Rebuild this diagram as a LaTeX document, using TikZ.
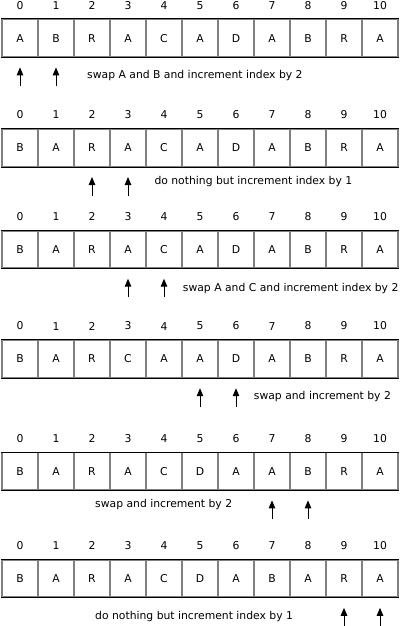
\documentclass[tikz,border=0pt]{standalone}
\usepackage{fontspec}
\setmainfont{DejaVu Sans}
\usetikzlibrary{arrows.meta,positioning}
\tikzset{
  cell/.style={rectangle, draw=black!50, line width=1.4pt, minimum width=36pt, minimum height=37pt, inner sep=0pt, font=\fontsize{10.8}{12}\selectfont},
  idx/.style={inner sep=0pt, font=\fontsize{10.8}{12}\selectfont},
  note/.style={anchor=west, inner sep=0pt, font=\fontsize{10.8}{12}\selectfont},
  ptr/.style={-{Triangle[length=8pt,width=6.5pt]}, line width=1pt, shorten >=10pt},
  edge/.style={line width=1pt}
}
\begin{document}
\begin{tikzpicture}[x=1pt, y=-1pt]
  \useasboundingbox (0,0) rectangle (412,626);
  % Felder mit Index
  \foreach \r/\y/\word in {1/38.2/{A,B,R,A,C,A,D,A,B,R,A}, 2/147.8/{B,A,R,A,C,A,D,A,B,R,A}, 3/249.5/{B,A,R,A,C,A,D,A,B,R,A}, 4/359/{B,A,R,C,A,A,D,A,B,R,A}, 5/471.2/{B,A,R,A,C,D,A,A,B,R,A}, 6/578.6/{B,A,R,A,C,D,A,B,A,R,A}} {
    \foreach \ch [count=\i from 0] in \word {
      \node [cell] (r\r c\i) at (20+36*\i,\y) {\ch};
      \node [idx, above=9.5pt of r\r c\i] (i\r c\i) {\i};
    }
    \draw [edge] (r\r c0.north west) -- (r\r c10.north east);
    \draw [edge] (r\r c0.south west) -- (r\r c10.south east);
  }

  % Zeiger
  \coordinate [below=28.5pt of r1c0.south] (p1a);
  \coordinate [below=28.5pt of r1c1.south] (p1b);
  \coordinate [below=28.5pt of r2c2.south] (p2a);
  \coordinate [below=28.5pt of r2c3.south] (p2b);
  \coordinate [below=28.5pt of r3c3.south] (p3a);
  \coordinate [below=28.5pt of r3c4.south] (p3b);
  \coordinate [below=28.5pt of r4c5.south] (p4a);
  \coordinate [below=28.5pt of r4c6.south] (p4b);
  \coordinate [below=28.5pt of r5c7.south] (p5a);
  \coordinate [below=28.5pt of r5c8.south] (p5b);
  \coordinate [below=28.5pt of r6c9.south] (p6a);
  \coordinate [below=28.5pt of r6c10.south] (p6b);
  \draw [ptr] (p1a) -- (r1c0.south);
  \draw [ptr] (p1b) -- (r1c1.south);
  \draw [ptr] (p2a) -- (r2c2.south);
  \draw [ptr] (p2b) -- (r2c3.south);
  \draw [ptr] (p3a) -- (r3c3.south);
  \draw [ptr] (p3b) -- (r3c4.south);
  \draw [ptr] (p4a) -- (r4c5.south);
  \draw [ptr] (p4b) -- (r4c6.south);
  \draw [ptr] (p5a) -- (r5c7.south);
  \draw [ptr] (p5b) -- (r5c8.south);
  \draw [ptr] (p6a) -- (r6c9.south);
  \draw [ptr] (p6b) -- (r6c10.south);

  % Beschreibung
  \node [note] (n1) at (87,76) {swap A and B and increment index by 2};
  \node [note] (n2) at (154.3,181.7) {do nothing but increment index by 1};
  \node [note] (n3) at (182.7,288.3) {swap A and C and increment index by 2};
  \node [note] (n4) at (253.7,396.7) {swap and increment by 2};
  \node [note] (n5) at (95,505) {swap and increment by 2};
  \node [note] (n6) at (95,616.7) {do nothing but increment index by 1};
\end{tikzpicture}
\end{document}
